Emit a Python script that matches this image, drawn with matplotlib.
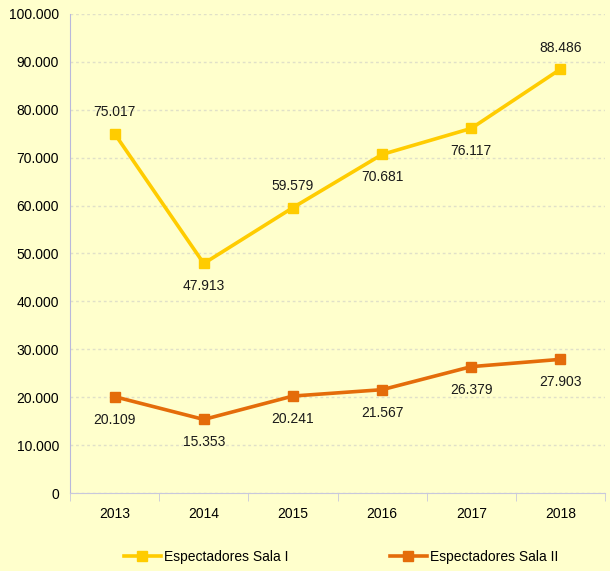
import matplotlib
matplotlib.use("Agg")
import matplotlib.pyplot as plt
from matplotlib.ticker import FuncFormatter, MultipleLocator

years = ["2013", "2014", "2015", "2016", "2017", "2018"]
sala1 = [75017, 47913, 59579, 70681, 76117, 88486]
sala2 = [20109, 15353, 20241, 21567, 26379, 27903]
sala1_pos = ["above", "below", "above", "below", "below", "above"]
sala2_pos = ["below"] * 6

plt.rcParams['font.family'] = ['Liberation Sans', 'DejaVu Sans']
bg = "#FFFFCC"
c1 = "#FFCC00"
c2 = "#E46C0A"

fig = plt.figure(figsize=(6.1, 5.71), dpi=100, facecolor=bg)
ax = fig.add_axes([0.1148, 0.1366, 0.877, 0.8389], facecolor=bg)

x = list(range(len(years)))
l1, = ax.plot(x, sala1, color=c1, lw=2.6, marker="s", ms=7.5, label="Espectadores Sala I")
l2, = ax.plot(x, sala2, color=c2, lw=2.6, marker="s", ms=7.5, label="Espectadores Sala II")

def fmt(v):
    return f"{v:,}".replace(",", ".")

for xs, pos in ((sala1, sala1_pos), (sala2, sala2_pos)):
    for xi, v, p in zip(x, xs, pos):
        ax.annotate(fmt(v), (xi, v), xytext=(0, 10.5 if p == "above" else -11.5),
                    textcoords="offset points", ha="center",
                    va="bottom" if p == "above" else "top", fontsize=10, color="#1a1a1a")

ax.set_xlim(-0.5, 5.5)
ax.set_ylim(0, 100000)
ax.yaxis.set_major_locator(MultipleLocator(10000))
ax.yaxis.set_major_formatter(FuncFormatter(lambda v, p: fmt(int(v))))
ax.set_xticks(x)
ax.set_xticklabels(years)
ax.set_xticks([i - 0.5 for i in range(7)], minor=True)
ax.tick_params(axis="x", which="major", length=0, pad=10, labelsize=10)
ax.tick_params(axis="x", which="minor", length=6, color="#C8C8DC")
ax.tick_params(axis="y", length=0, pad=8, labelsize=10)

ax.grid(axis="y", color="#E0E0C8", linestyle=(0, (2, 2)), lw=1)
for s in ["top", "right"]:
    ax.spines[s].set_visible(False)
ax.spines["left"].set_color("#B8B8DC")
ax.spines["bottom"].set_color("#C8C8DC")

fig.legend(handles=[l1, l2], loc="center", bbox_to_anchor=(0.559, 0.025), ncol=2, frameon=False,
           fontsize=10, handlelength=2.7, columnspacing=7.3, handletextpad=0.2, markerscale=0.9)

fig.savefig("out.png", dpi=100, facecolor=bg)
